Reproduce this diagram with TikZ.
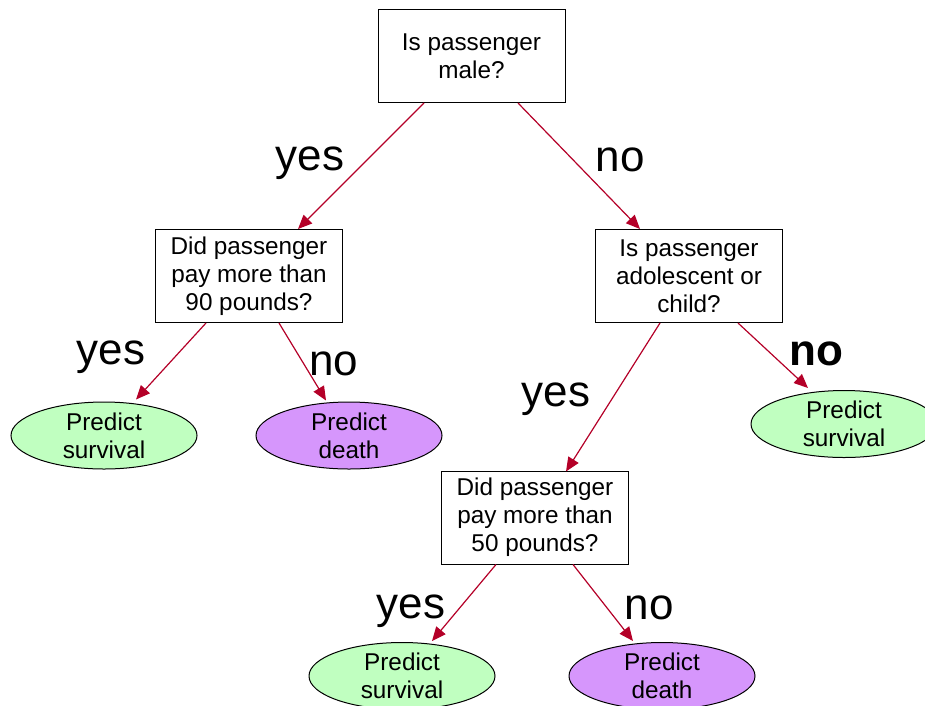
\documentclass[tikz,border=0pt]{standalone}
\usepackage{fontspec}
\setmainfont{Liberation Sans}
\usetikzlibrary{arrows.meta,shapes.geometric}
\definecolor{arrowred}{RGB}{180,0,40}
\definecolor{leafgreen}{RGB}{192,255,192}
\definecolor{leafpurple}{RGB}{214,150,252}
\begin{document}
\begin{tikzpicture}[x=1pt,y=-1pt,
  qbox/.style={draw=black,line width=1pt,fill=white,minimum width=187pt,minimum height=93pt,inner sep=0pt,align=center,font=\fontsize{24.3}{28}\selectfont},
  leaf/.style={draw=black,line width=1pt,ellipse,minimum width=186pt,minimum height=67pt,inner sep=0pt,align=center,font=\fontsize{24.3}{28}\selectfont},
  edge/.style={draw=arrowred,line width=1.2pt,-{Triangle[length=14pt,width=12pt]}},
  lab/.style={font=\fontsize{44}{44}\selectfont,inner sep=0pt}]
\useasboundingbox (0,0) rectangle (925,705);
\clip (0,0) rectangle (925,705);
\node[qbox] (b1) at (471.5,56) {Is passenger\\male?};
\node[qbox] (b2) at (249,276) {Did passenger\\pay more than\\90 pounds?};
\node[qbox] (b3) at (689,276) {Is passenger\\adolescent or\\child?};
\node[qbox] (b4) at (535,517.5) {Did passenger\\pay more than\\50 pounds?};
\node[leaf,fill=leafgreen] (e1) at (104,435.5) {Predict\\survival};
\node[leaf,fill=leafpurple] (e2) at (349,435.5) {Predict\\death};
\node[leaf,fill=leafgreen] (e3) at (844,424) {Predict\\survival};
\node[leaf,fill=leafgreen] (e4) at (402,676) {Predict\\survival};
\node[leaf,fill=leafpurple] (e5) at (662,676) {Predict\\death};
\draw[edge] ([xshift=-47.5pt]b1.south) -- ([xshift=49pt]b2.north);
\draw[edge] ([xshift=46.5pt]b1.south) -- ([xshift=-49pt]b3.north);
\draw[edge] ([xshift=-43pt]b2.south) -- ([xshift=32pt,yshift=2pt]e1.north);
\draw[edge] ([xshift=30pt]b2.south) -- ([xshift=-23pt,yshift=1pt]e2.north);
\draw[edge] ([xshift=-29pt]b3.south) -- ([xshift=31pt,yshift=-1pt]b4.north);
\draw[edge] ([xshift=49pt]b3.south) -- ([xshift=-36pt,yshift=2pt]e3.north);
\draw[edge] ([xshift=-39pt]b4.south) -- ([xshift=30pt,yshift=1pt]e4.north);
\draw[edge] ([xshift=38pt]b4.south) -- ([xshift=-29pt,yshift=1pt]e5.north);
\node[lab] (l1) at (310,163) {yes};
\node[lab] (l2) at (620,160) {no};
\node[lab] (l3) at (111,357) {yes};
\node[lab] (l4) at (334,364) {no};
\node[lab] (l5) at (556,399) {yes};
\node[lab,font=\fontsize{44}{44}\bfseries] (l6) at (816,354) {no};
\node[lab] (l7) at (411,611) {yes};
\node[lab] (l8) at (649,608) {no};
\end{tikzpicture}
\end{document}
